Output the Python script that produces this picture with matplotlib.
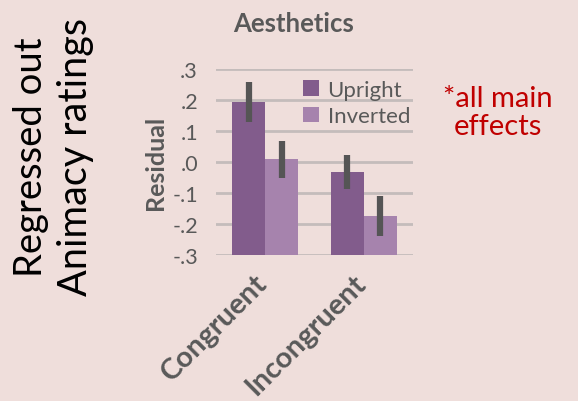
import matplotlib
matplotlib.use("Agg")
import matplotlib.pyplot as plt
from matplotlib.transforms import ScaledTranslation
import numpy as np

categories = ["Congruent", "Incongruent"]
series_names = ["Upright", "Inverted"]
upright = [0.195, -0.033]
inverted = [0.009, -0.173]
upright_err_lo = [0.128, -0.087]
upright_err_hi = [0.259, 0.024]
inverted_err_lo = [-0.052, -0.238]
inverted_err_hi = [0.068, -0.110]
yticks = [0.3, 0.2, 0.1, 0.0, -0.1, -0.2, -0.3]
ytick_labels = [".3", ".2", ".1", ".0", "-.1", "-.2", "-.3"]

bg = "#efdedb"
c_up = "#825c8c"
c_inv = "#a683ad"
grey = "#595959"

plt.rcParams["font.family"] = ["Lato", "DejaVu Sans"]

fig = plt.figure(figsize=(5.78, 4.02), dpi=100, facecolor=bg)
W, H = 578, 402
ax = fig.add_axes([216 / W, 1 - 256 / H, 197 / W, 186 / H], facecolor=bg)

ymin, ymax = -0.3, 0.3
x = np.arange(len(categories))
w = 1 / 3
# bars rise from the floor of the axis
ax.bar(x - w / 2, np.array(upright) - ymin, w, bottom=ymin, color=c_up,
       zorder=2, label=series_names[0])
ax.bar(x + w / 2, np.array(inverted) - ymin, w, bottom=ymin, color=c_inv,
       zorder=2, label=series_names[1])

for xs, lo, hi in [(x - w / 2, upright_err_lo, upright_err_hi),
                   (x + w / 2, inverted_err_lo, inverted_err_hi)]:
    ax.vlines(xs, lo, hi, color="#555555", linewidth=4.5, zorder=3)

ax.set_xlim(-0.5, 1.5)
ax.set_ylim(ymin, ymax)
ax.set_yticks(yticks)
ax.set_yticklabels(ytick_labels, fontsize=15.5, color=grey)
for t in yticks:
    ax.axhline(t, color="#c4bcbb", linewidth=2, zorder=1)
for s in ax.spines.values():
    s.set_visible(False)
ax.tick_params(axis="both", length=0)
ax.tick_params(axis="y", pad=13)
ax.set_xticks(x)
ax.set_xticklabels(categories, rotation=45, ha="right", rotation_mode="anchor",
                   fontsize=21, fontweight="bold", color=grey)
ax.tick_params(axis="x", pad=10)
shift = ScaledTranslation(-8 / 72, 0, fig.dpi_scale_trans)
for lab in ax.get_xticklabels():
    lab.set_transform(lab.get_transform() + shift)
ax.set_ylabel("Residual", fontsize=18, fontweight="bold", color=grey, labelpad=4)
ax.set_title("Aesthetics", fontsize=18.5, fontweight="bold", color=grey,
             pad=27, x=0.396)

leg = ax.legend(loc="upper right", frameon=False, fontsize=16, labelcolor=grey,
                handlelength=0.7, handleheight=0.7, handletextpad=0.4,
                labelspacing=0.3, borderaxespad=0.0,
                bbox_to_anchor=(1.03, 0.99))

fig.text(31 / W, 1 - 157 / H, "Regressed out", rotation=90, ha="center",
         va="center", fontsize=27.5, color="black")
fig.text(76 / W, 1 - 157 / H, "Animacy ratings", rotation=90, ha="center",
         va="center", fontsize=28.5, color="black")
fig.text(498 / W, 1 - 113 / H, "*all main\neffects", ha="center", va="center",
         fontsize=21, color="#c00000", linespacing=1.05)

fig.savefig("out.png", dpi=100, facecolor=bg)
